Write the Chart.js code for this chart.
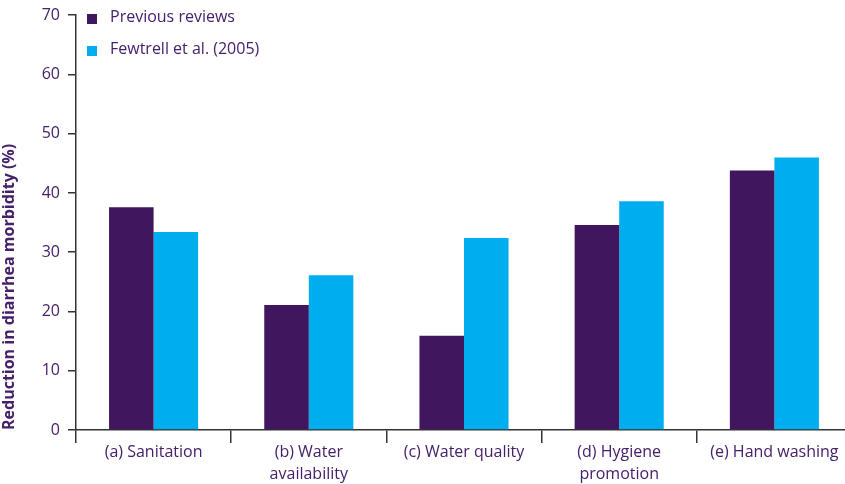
<!DOCTYPE html>
<html>
<head>
<meta charset="utf-8">
<script src="https://cdn.jsdelivr.net/npm/chart.js@4/dist/chart.umd.min.js"></script>
<style>
  html, body { margin: 0; padding: 0; background: #fff; overflow: hidden; }
  #wrap { position: relative; width: 852px; height: 484px; }
</style>
</head>
<body>
<div id="wrap"><canvas id="chart"></canvas></div>
<script>
// data
const categories = [
  '(a) Sanitation',
  ['(b) Water', 'availability'],
  '(c) Water quality',
  ['(d) Hygiene', 'promotion'],
  '(e) Hand washing'
];
const previousReviews = [37.6, 21.1, 15.9, 34.6, 43.8];
const fewtrell2005 = [33.4, 26.1, 32.4, 38.6, 46.0];
const yTicks = [0, 10, 20, 30, 40, 50, 60, 70];

const purple = '#40165f';
const cyan = '#00aeef';
const textColor = '#45206b';
const axisColor = '#333333';
const fontFamily = '"Open Sans", "Noto Sans", sans-serif';

// legend drawn in the top-left of the plot
const legendPlugin = {
  id: 'boxLegend',
  afterDraw(chart) {
    const ctx = chart.ctx;
    ctx.save();
    ctx.font = '16px ' + fontFamily;
    ctx.textBaseline = 'middle';
    chart.data.datasets.forEach((ds, i) => {
      const y = 19 + i * 32;
      ctx.fillStyle = ds.backgroundColor;
      ctx.fillRect(87, y - 5, 10, 10);
      ctx.fillStyle = textColor;
      ctx.fillText(ds.label, 110, y - 2);
    });
    ctx.restore();
  }
};

new Chart(document.getElementById('chart'), {
  type: 'bar',
  data: {
    labels: categories,
    datasets: [
      { label: 'Previous reviews', data: previousReviews, backgroundColor: purple },
      { label: 'Fewtrell et al. (2005)', data: fewtrell2005, backgroundColor: cyan }
    ]
  },
  options: {
    responsive: true,
    maintainAspectRatio: false,
    animation: false,
    layout: { padding: { top: 5, right: 0, bottom: 0, left: 0 } },
    datasets: {
      bar: { categoryPercentage: 0.574, barPercentage: 1 }
    },
    plugins: {
      legend: { display: false },
      tooltip: { enabled: false }
    },
    scales: {
      x: {
        grid: {
          offset: true,
          drawOnChartArea: false,
          color: axisColor,
          tickLength: 13,
          lineWidth: 1.5
        },
        border: { color: axisColor, width: 1.5 },
        ticks: {
          color: textColor,
          font: { family: fontFamily, size: 16, lineHeight: 1.4 },
          padding: -2,
          maxRotation: 0,
          autoSkip: false
        },
        afterFit(scale) { scale.height = 54; }
      },
      y: {
        min: 0,
        max: 70,
        afterBuildTicks(scale) { scale.ticks = yTicks.map(v => ({ value: v })); },
        grid: {
          drawOnChartArea: false,
          color: axisColor,
          tickLength: 8,
          lineWidth: 1.5
        },
        border: { color: axisColor, width: 1.5 },
        ticks: {
          color: textColor,
          font: { family: fontFamily, size: 16, lineHeight: 0.9 },
          padding: 8
        },
        title: {
          display: true,
          text: 'Reduction in diarrhea morbidity (%)',
          align: 'start',
          color: textColor,
          font: { family: fontFamily, size: 16, weight: 'bold' },
          padding: { top: 0, bottom: 0 }
        },
        afterFit(scale) { scale.width = 76; }
      }
    }
  },
  plugins: [legendPlugin]
});
</script>
</body>
</html>
